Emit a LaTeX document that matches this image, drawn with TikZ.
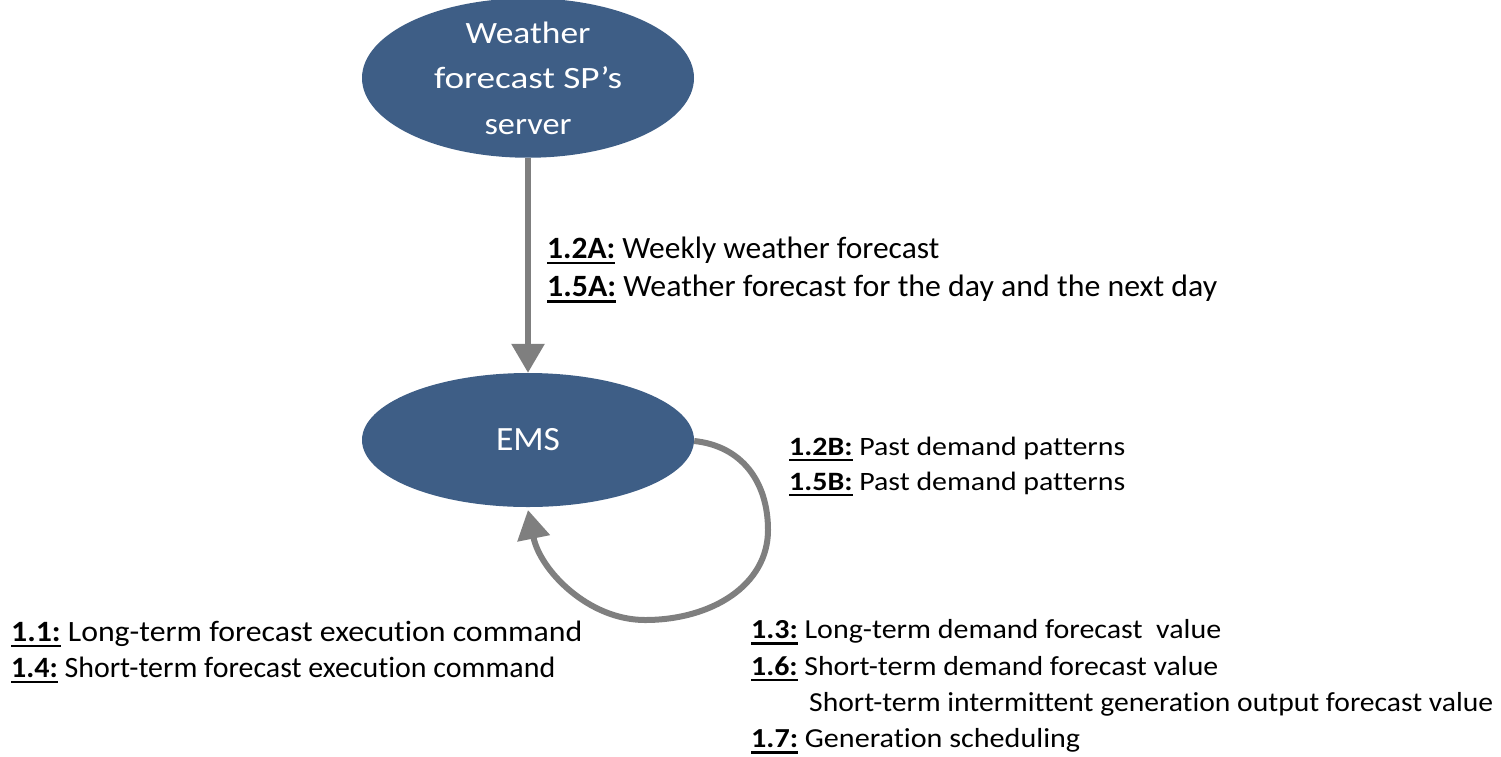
\documentclass[tikz,border=0pt]{standalone}
\usepackage{fontspec}
\usepackage{graphicx}
\setmainfont{Carlito}[Ligatures={TeX,NoCommon}]
\usetikzlibrary{arrows.meta,shapes.geometric}
\definecolor{ellblue}{RGB}{62,94,134}
\definecolor{arrgray}{RGB}{127,127,127}
\newcommand{\fitw}[2]{\resizebox{#1}{\height}{#2}}
\newcommand{\num}[1]{\setbox0\hbox{\textbf{#1}}\rlap{\rule[-6pt]{\wd0}{2.3pt}}\box0\relax}
\tikzset{
  ell/.style={ellipse, fill=ellblue, draw=none, minimum width=332pt, minimum height=134pt, inner sep=0pt, text=white, align=center},
  conn/.style={draw=arrgray, line width=6pt, -{Triangle[length=29pt,width=32pt]}},
  lbl/.style={anchor=base west, inner sep=0pt},
}
\begin{document}
\begin{tikzpicture}[x=1pt,y=-1pt]
\useasboundingbox (0,0) rectangle (1501,756);
\node[ell, font=\fontsize{31}{45.5}\selectfont] (wf) at (528,78) {\fitw{125pt}{Weather}\\\fitw{188pt}{forecast SP's}\\\fitw{87pt}{server}};
\node[ell, font=\fontsize{34}{40}\selectfont] (ems) at (528,440) {\fitw{64pt}{EMS}};
\draw[conn] (wf.south) -- (ems.north);
\coordinate (lr) at (768,530);
\coordinate (lb) at (645,620);
\coordinate (tip) at (528,510);
\draw[draw=arrgray, line width=6pt] (ems.east) ++(0,1) .. controls (742,446) and (768,482) .. (lr)
  .. controls (768,585) and (712,620) .. (lb);
\draw[conn] (lb) .. controls (588,620) and (540,570) .. (tip);
% labels of the server -> EMS flow
\node[lbl, font=\fontsize{31}{38}\selectfont] (a1) at (547,258.3) {\fitw{392pt}{\num{1.2A:} Weekly weather forecast}};
\node[lbl, font=\fontsize{31}{38}\selectfont] (a2) at (547,296.7) {\fitw{670pt}{\num{1.5A:} Weather forecast for the day and the next day}};
% labels of the loop
\node[lbl, font=\fontsize{26.5}{35}\selectfont] (b1) at (789,455) {\fitw{336pt}{\num{1.2B:} Past demand patterns}};
\node[lbl, font=\fontsize{26.5}{35}\selectfont] (b2) at (789,490) {\fitw{336pt}{\num{1.5B:} Past demand patterns}};
\node[lbl, font=\fontsize{29.5}{36}\selectfont] (c1) at (11,641) {\fitw{571pt}{\num{1.1:} Long-term forecast execution command}};
\node[lbl, font=\fontsize{29.5}{36}\selectfont] (c2) at (11,677) {\fitw{544pt}{\num{1.4:} Short-term forecast execution command}};
\node[lbl, font=\fontsize{27.5}{36}\selectfont] (d1) at (751,638.7) {\fitw{470pt}{\num{1.3:} Long-term demand forecast~~value}};
\node[lbl, font=\fontsize{27.5}{36}\selectfont] (d2) at (751,675.3) {\fitw{467pt}{\num{1.6:} Short-term demand forecast value}};
\node[lbl, font=\fontsize{27.5}{36}\selectfont] (d3) at (809,711) {\fitw{684pt}{Short-term intermittent generation output forecast value}};
\node[lbl, font=\fontsize{27.5}{36}\selectfont] (d4) at (751,747.7) {\fitw{329pt}{\num{1.7:} Generation scheduling}};
\end{tikzpicture}
\end{document}
